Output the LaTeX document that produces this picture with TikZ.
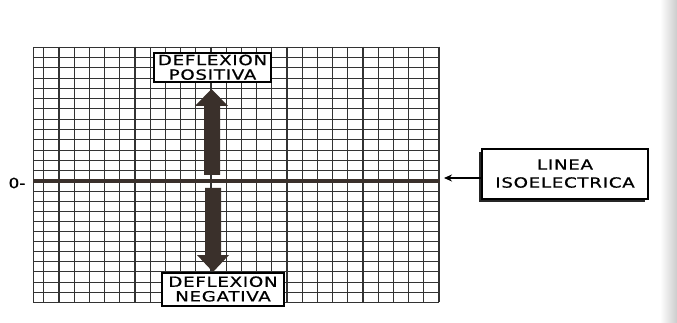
\documentclass[tikz,border=0pt]{standalone}
\usepackage{fontspec}
\setmainfont{DejaVu Sans}
\usetikzlibrary{arrows.meta,shadows}
\definecolor{ink}{HTML}{3A302B}
\definecolor{gridc}{HTML}{333333}
\newcommand\lbltxt[4]{\raisebox{#4}[\height][\depth]{\scalebox{1.3}[1]{\fontsize{14}{#3}\selectfont\addfontfeatures{LetterSpace=4,FakeBold=0.7}\begin{tabular}{@{}c@{}}#1\\#2\end{tabular}}}}
\begin{document}
\begin{tikzpicture}[x=1pt,y=-1pt,
  gridline/.style={draw=gridc,line width=0.9pt},
  majorline/.style={draw=gridc,line width=1.8pt},
  zeroline/.style={draw=ink,line width=4.5pt},
  blockarrow/.style={fill=ink,draw=none},
  labelbox/.style={draw=black,line width=1.2pt,fill=white,inner sep=0pt,align=center},
  pointer/.style={draw=black,line width=1.6pt,-{Stealth[length=8pt,width=7pt]}}]
\useasboundingbox (0,0) rectangle (677,323);
\fill[white] (0,0) rectangle (677,323);
\shade[left color=white,right color=black!20] (660,0) rectangle (677,323);
% grid
\foreach \k in {-1,...,25}{
  \draw[gridline] ({59+15.2*\k},47) -- ({59+15.2*\k},302);}
\draw[gridline] (33,47) -- (33,302);
\foreach \j in {0,...,13}{
  \draw[gridline] (33,{181-10.3*\j}) -- (439,{181-10.3*\j});}
\foreach \j in {1,...,12}{
  \draw[gridline] (33,{181+10.1*\j}) -- (439,{181+10.1*\j});}
\foreach \k in {0,5,...,25}{
  \draw[majorline] ({59+15.2*\k},47) -- ({59+15.2*\k},302);}
% zero line
\coordinate (zl) at (33,181);
\coordinate (zr) at (440,181);
\draw[zeroline] (zl) -- (zr);
\node[font=\fontsize{14}{15}\selectfont] (zero) at (17,183) {\addfontfeatures{FakeBold=0.8}\scalebox{1.2}[1]{0-}};
% block arrows
\fill[blockarrow] (204,175) -- (204,106) -- (195,106) -- (211.5,89) -- (228,106) -- (220,106) -- (220,175) -- cycle;
\fill[blockarrow] (205,188) -- (205,255) -- (197,255) -- (213,272) -- (229,255) -- (221,255) -- (221,188) -- cycle;
% labels
\node[labelbox,minimum width=117pt,minimum height=29pt] (pos) at (212.5,67.5) {\lbltxt{DEFLEXION}{POSITIVA}{14}{-1.8pt}};
\node[labelbox,minimum width=122pt,minimum height=33pt] (neg) at (223,289.5) {\lbltxt{DEFLEXION}{NEGATIVA}{14}{-1.5pt}};
\node[labelbox,minimum width=166pt,minimum height=50pt,
  drop shadow={shadow xshift=-3pt,shadow yshift=-3pt,fill=black!85,opacity=1}] (iso) at (565,174) {\lbltxt{LINEA}{ISOELECTRICA}{18}{-1pt}};
\coordinate (isotip) at (444,178);
\draw[pointer] (iso.west |- isotip) -- (isotip);
\end{tikzpicture}
\end{document}
